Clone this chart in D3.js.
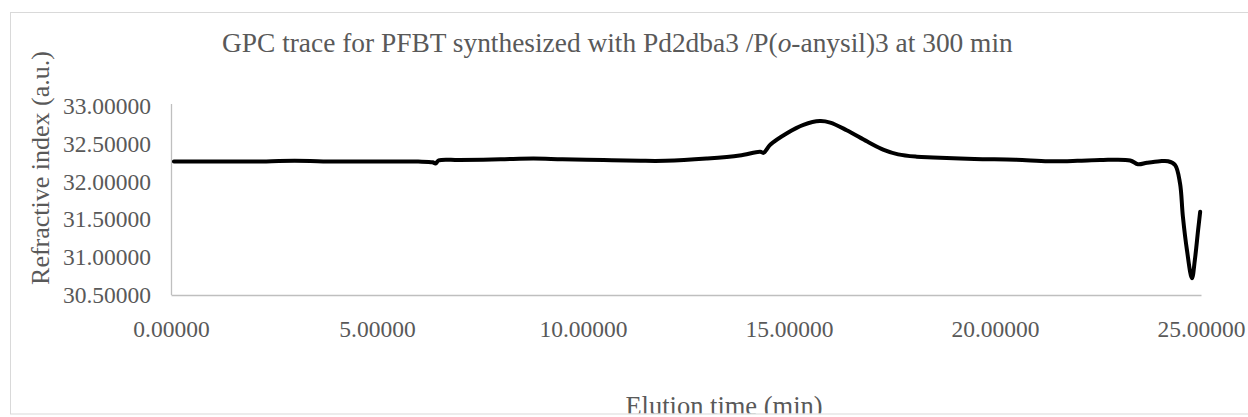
<!DOCTYPE html>
<html>
<head>
<meta charset="utf-8">
<script src="https://cdn.jsdelivr.net/npm/d3@7"></script>
<style>
  html, body { margin: 0; padding: 0; background: #fff; }
  svg { display: block; }
</style>
</head>
<body>
<svg id="chart" width="1248" height="417"></svg>
<script>
// ---- Data ----
const titleText = "GPC trace for PFBT synthesized with Pd2dba3 /P(";
const yTitle = "Refractive index (a.u.)";
const xTitle = "Elution time (min)";
const xTicks = [0, 5, 10, 15, 20, 25];
const yTicks = [30.5, 31.0, 31.5, 32.0, 32.5, 33.0];
const elutionTime = [0.07, 1, 2, 3, 4, 5, 6, 6.35, 6.42, 6.5, 7, 8, 8.8, 9.5, 10.5, 11.4, 12, 13, 13.8, 14.3, 14.38, 14.55, 14.95, 15.35, 15.75, 16.0, 16.4, 16.9, 17.3, 17.65, 18.1, 18.5, 19.5, 20.5, 21.3, 22.0, 22.55, 23.28, 23.47, 23.69, 24.0, 24.2, 24.37, 24.49, 24.56, 24.66, 24.78, 24.85, 24.93, 24.98];
const refractiveIndex = [32.265, 32.265, 32.265, 32.275, 32.265, 32.265, 32.265, 32.255, 32.24, 32.28, 32.285, 32.295, 32.305, 32.295, 32.285, 32.275, 32.275, 32.305, 32.345, 32.395, 32.38, 32.49, 32.64, 32.75, 32.80, 32.78, 32.68, 32.53, 32.42, 32.36, 32.33, 32.32, 32.30, 32.29, 32.27, 32.275, 32.285, 32.28, 32.23, 32.25, 32.27, 32.27, 32.22, 31.98, 31.54, 31.09, 30.72, 30.96, 31.36, 31.60];

const FONT = "'Liberation Serif', 'Times New Roman', serif";
const TXT = "#595959";
const svg = d3.select("#chart");

// chart frame
svg.append("defs").append("clipPath").attr("id", "frameClip")
  .append("rect").attr("x", 11).attr("y", 12).attr("width", 1250).attr("height", 401.5);
const root = svg.append("g").attr("clip-path", "url(#frameClip)");
svg.append("rect").attr("x", 10.5).attr("y", 12.5).attr("width", 1250).attr("height", 401.5)
  .attr("fill", "none").attr("stroke", "#d9d9d9").attr("stroke-width", 1);

const plot = { left: 171, right: 1201, top: 106, bottom: 295 };
const x = d3.scaleLinear().domain([0, 25]).range([plot.left, plot.right]);
const y = d3.scaleLinear().domain([30.5, 33.0]).range([plot.bottom, plot.top]);

// Title
const t = root.append("text").attr("x", 222).attr("y", 52)
  .attr("font-family", FONT).attr("font-size", 27.4).attr("fill", TXT);
t.append("tspan").text(titleText);
t.append("tspan").attr("font-style", "italic").text("o");
t.append("tspan").text("-anysil)3 at 300 min");

// Y axis
const yAxis = d3.axisLeft(y).tickValues(yTicks).tickSize(0).tickPadding(20)
  .tickFormat(d3.format(".5f"));
const gy = root.append("g").attr("transform", `translate(${plot.left},0)`).call(yAxis);
gy.select(".domain").attr("stroke", "#bfbfbf").attr("stroke-width", 1.3)
  .attr("d", `M0.5,${plot.top - 2}V${plot.bottom}`);
gy.selectAll(".tick text").attr("font-size", 23.5).attr("font-family", FONT).attr("fill", TXT);

// X axis
const xAxis = d3.axisBottom(x).tickValues(xTicks).tickSize(0).tickPadding(25)
  .tickFormat(d3.format(".5f"));
const gx = root.append("g").attr("transform", `translate(0,${plot.bottom})`).call(xAxis);
gx.select(".domain").attr("stroke", "#bfbfbf").attr("stroke-width", 1.3);
gx.selectAll(".tick text").attr("font-size", 23.5).attr("font-family", FONT).attr("fill", TXT);

// Axis titles
root.append("text").attr("transform", "translate(49,168) rotate(-90)")
  .attr("text-anchor", "middle").attr("font-family", FONT).attr("font-size", 26).attr("fill", TXT)
  .text(yTitle);
root.append("text").attr("x", 724).attr("y", 415)
  .attr("text-anchor", "middle").attr("font-family", FONT).attr("font-size", 26.5).attr("fill", TXT)
  .text(xTitle);

// Trace
const pts = elutionTime.map((tt, i) => [tt, refractiveIndex[i]]);
const line = d3.line().x(d => x(d[0])).y(d => y(d[1])).curve(d3.curveCatmullRom.alpha(0.5));
root.append("path").datum(pts).attr("d", line)
  .attr("fill", "none").attr("stroke", "#000").attr("stroke-width", 4)
  .attr("stroke-linejoin", "round").attr("stroke-linecap", "round");
</script>
</body>
</html>
